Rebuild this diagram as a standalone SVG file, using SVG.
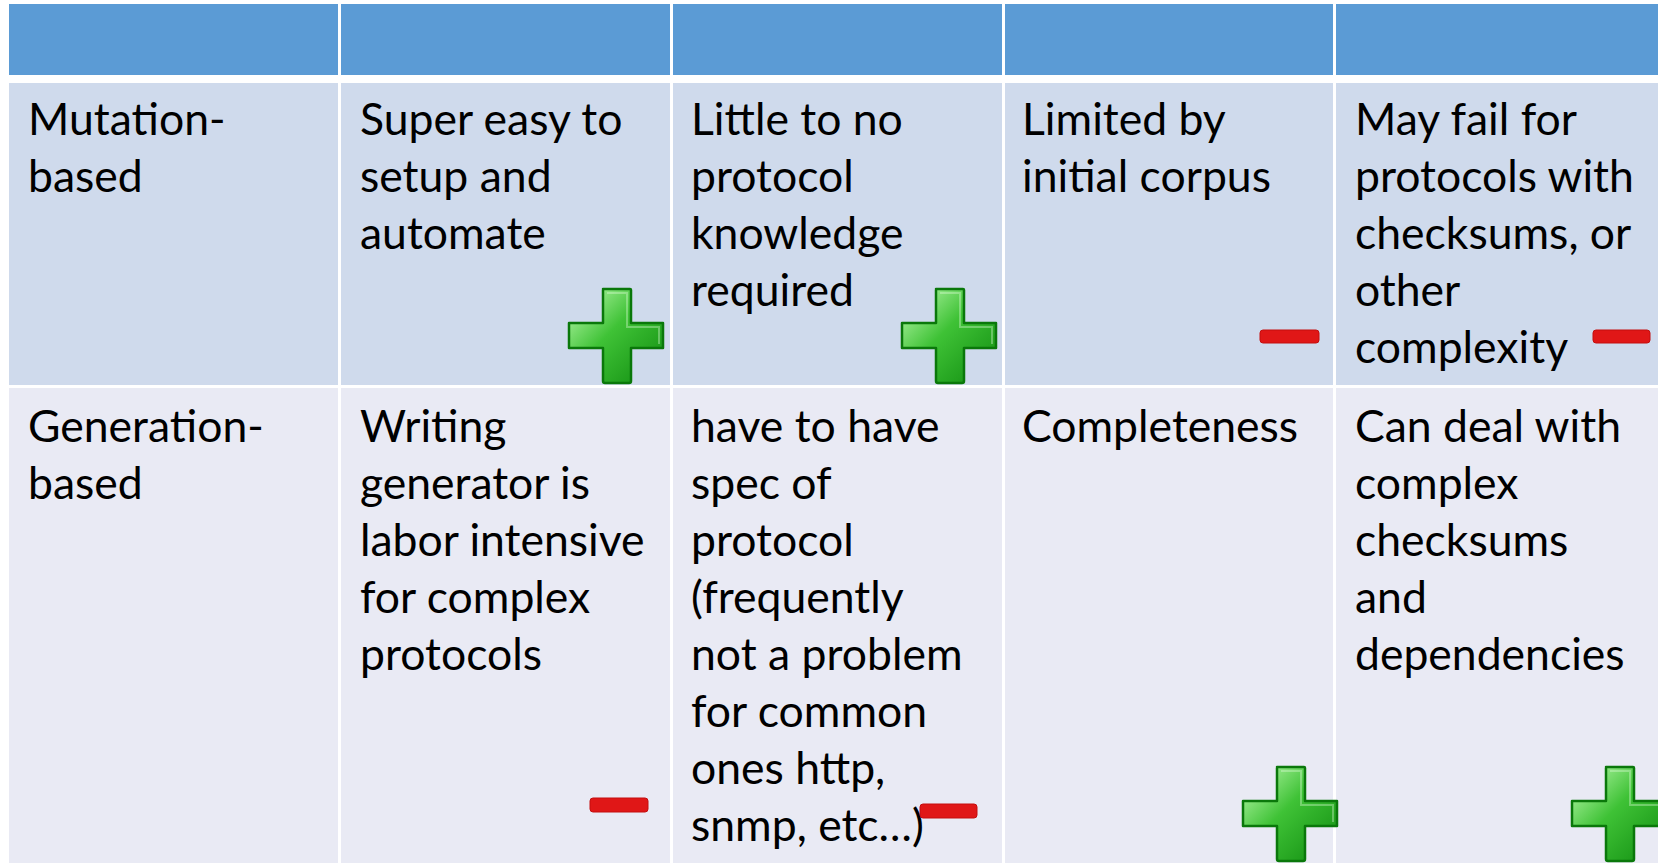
<svg xmlns="http://www.w3.org/2000/svg" width="1658" height="863" viewBox="0 0 1658 863">
  <style>
    .hdr { fill: #5B9BD5; }
    .r1 { fill: #CFDAEC; }
    .r2 { fill: #E9EAF4; }
    .txt { font-family: Lato, "Open Sans", "Liberation Sans", sans-serif; font-size: 44.5px; fill: #000000; }
    .minus { fill: #E01717; stroke: #C40E0E; stroke-width: 1; }
  </style>
  <defs>
    <linearGradient id="plusFill" x1="0" y1="0" x2="1" y2="1">
      <stop offset="0" stop-color="#C6FFB8"/>
      <stop offset="0.45" stop-color="#3FC236"/>
      <stop offset="1" stop-color="#0E8A0E"/>
    </linearGradient>
    <!-- green bevelled plus, 96 x 95 -->
    <g id="plus">
      <path d="M35,1 H62 Q63,1 63,2 V35 H95 V60 H63 V93 Q63,95 61,95 H37 Q35,95 35,93 V60 H1 V35 H35 V2 Q35,1 36,1 Z" fill="url(#plusFill)" stroke="#0A780A" stroke-width="2.5" stroke-linejoin="round"/>
      <path d="M39,5 H59 V39 H91 V56" fill="none" stroke="#E6FFE0" stroke-opacity="0.35" stroke-width="2"/>
    </g>
  </defs>

  <rect width="1658" height="863" fill="#FFFFFF"/>

  <!-- header row -->
  <g id="header">
    <rect class="hdr" x="9" y="4" width="329" height="71"/>
    <rect class="hdr" x="341" y="4" width="329" height="71"/>
    <rect class="hdr" x="673" y="4" width="329" height="71"/>
    <rect class="hdr" x="1005" y="4" width="328" height="71"/>
    <rect class="hdr" x="1336" y="4" width="330" height="71"/>
  </g>

  <!-- mutation-based row -->
  <g id="mutation-label">
    <rect class="r1" x="9" y="83" width="329" height="302"/>
    <text class="txt"><tspan x="28" y="135">Mutation-</tspan><tspan x="28" y="192">based</tspan></text>
  </g>
  <g id="mutation-setup">
    <rect class="r1" x="341" y="83" width="329" height="302"/>
    <text class="txt"><tspan x="360" y="135">Super easy to</tspan><tspan x="360" y="192">setup and</tspan><tspan x="360" y="249">automate</tspan></text>
  </g>
  <g id="mutation-knowledge">
    <rect class="r1" x="673" y="83" width="329" height="302"/>
    <text class="txt"><tspan x="691" y="135">Little to no</tspan><tspan x="691" y="192">protocol</tspan><tspan x="691" y="249">knowledge</tspan><tspan x="691" y="306">required</tspan></text>
  </g>
  <g id="mutation-corpus">
    <rect class="r1" x="1005" y="83" width="328" height="302"/>
    <text class="txt"><tspan x="1022" y="135">Limited by</tspan><tspan x="1022" y="192">initial corpus</tspan></text>
  </g>
  <g id="mutation-checksums">
    <rect class="r1" x="1336" y="83" width="330" height="302"/>
    <text class="txt"><tspan x="1355" y="135">May fail for</tspan><tspan x="1355" y="192">protocols with</tspan><tspan x="1355" y="249">checksums, or</tspan><tspan x="1355" y="306">other</tspan><tspan x="1355" y="363">complexity</tspan></text>
  </g>

  <!-- generation-based row -->
  <g id="generation-label">
    <rect class="r2" x="9" y="388" width="329" height="480"/>
    <text class="txt"><tspan x="28" y="442">Generation-</tspan><tspan x="28" y="499">based</tspan></text>
  </g>
  <g id="generation-effort">
    <rect class="r2" x="341" y="388" width="329" height="480"/>
    <text class="txt"><tspan x="360" y="442">Writing</tspan><tspan x="360" y="499">generator is</tspan><tspan x="360" y="556">labor intensive</tspan><tspan x="360" y="613">for complex</tspan><tspan x="360" y="670">protocols</tspan></text>
  </g>
  <g id="generation-spec">
    <rect class="r2" x="673" y="388" width="329" height="480"/>
    <text class="txt"><tspan x="691" y="442">have to have</tspan><tspan x="691" y="499">spec of</tspan><tspan x="691" y="556">protocol</tspan><tspan x="691" y="613">(frequently</tspan><tspan x="691" y="670">not a problem</tspan><tspan x="691" y="727">for common</tspan><tspan x="691" y="784">ones http,</tspan><tspan x="691" y="841">snmp, etc…)</tspan></text>
  </g>
  <g id="generation-completeness">
    <rect class="r2" x="1005" y="388" width="328" height="480"/>
    <text class="txt"><tspan x="1022" y="442">Completeness</tspan></text>
  </g>
  <g id="generation-checksums">
    <rect class="r2" x="1336" y="388" width="330" height="480"/>
    <text class="txt"><tspan x="1355" y="442">Can deal with</tspan><tspan x="1355" y="499">complex</tspan><tspan x="1355" y="556">checksums</tspan><tspan x="1355" y="613">and</tspan><tspan x="1355" y="670">dependencies</tspan></text>
  </g>

  <!-- pro / con markers -->
  <g id="markers">
    <use href="#plus" x="568" y="288"/>
    <use href="#plus" x="901" y="288"/>
    <use href="#plus" x="1242" y="766"/>
    <use href="#plus" x="1571" y="766"/>
    <rect class="minus" x="1260" y="330" width="59" height="13" rx="3"/>
    <rect class="minus" x="1593" y="330" width="57" height="13" rx="3"/>
    <rect class="minus" x="590" y="798" width="58" height="14" rx="3"/>
    <rect class="minus" x="920" y="804" width="57" height="14" rx="3"/>
  </g>

  <g id="connectors"/>
</svg>
